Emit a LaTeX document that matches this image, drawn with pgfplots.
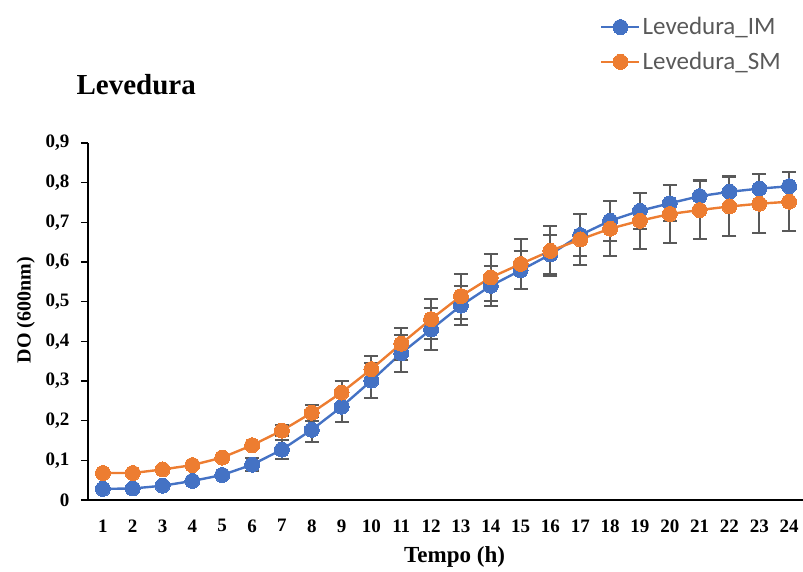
\documentclass[border=0pt]{standalone}
\usepackage{pgfplots}
\pgfplotsset{compat=1.18}
\usepackage{pgfplotstable}
\usepackage{fontspec}
\setmainfont{Liberation Serif}
\newfontfamily\legfont{Carlito}

\definecolor{imblue}{HTML}{4472C4}
\definecolor{smorange}{HTML}{ED7D31}
\definecolor{errgray}{HTML}{595959}
\definecolor{leggray}{HTML}{595959}

% t: time (h); im/sm: mean OD600; eim/esm: standard deviation
\pgfplotstableread{
t  im    eim   sm    esm
1  0.028 0.000 0.068 0.000
2  0.029 0.000 0.068 0.000
3  0.036 0.000 0.077 0.000
4  0.048 0.000 0.088 0.000
5  0.063 0.000 0.107 0.000
6  0.089 0.017 0.138 0.000
7  0.127 0.024 0.175 0.014
8  0.177 0.032 0.220 0.020
9  0.235 0.039 0.271 0.030
10 0.301 0.045 0.330 0.034
11 0.370 0.047 0.394 0.040
12 0.430 0.053 0.456 0.050
13 0.490 0.049 0.514 0.057
14 0.540 0.050 0.561 0.059
15 0.579 0.048 0.595 0.062
16 0.619 0.050 0.628 0.063
17 0.668 0.052 0.657 0.065
18 0.704 0.050 0.684 0.070
19 0.729 0.046 0.704 0.071
20 0.748 0.045 0.721 0.072
21 0.766 0.040 0.731 0.074
22 0.777 0.039 0.740 0.074
23 0.785 0.038 0.747 0.074
24 0.791 0.036 0.752 0.075
}\growth

\begin{document}
\begin{tikzpicture}
\useasboundingbox (-88pt,-72pt) rectangle (715pt,500pt);
\begin{axis}[
  at={(0pt,0pt)}, anchor=origin,
  scale only axis,
  width=716pt, height=357pt,
  xmin=0.5, xmax=24.5,
  ymin=0, ymax=0.9,
  axis x line=bottom, axis y line=left,
  axis line style={-, black, line width=1.4pt},
  xtick={1,...,24},
  ytick={0,0.1,...,0.9},
  tick align=outside,
  major tick length=7pt,
  x tick style={draw=none},
  y tick style={black, line width=1.4pt},
  /pgf/number format/.cd, use comma, fixed, precision=1, assume math mode=true,
  /pgfplots/.cd,
  ticklabel style={font=\fontsize{19}{19}\selectfont\bfseries},
  xticklabel style={yshift=-9pt},
  yticklabel style={xshift=-8pt},
  xlabel={Tempo (h)},
  ylabel={DO (600nm)},
  xlabel style={font=\fontsize{23}{23}\selectfont\bfseries,
    at={(axis description cs:0.512,-0.16)}, anchor=center},
  ylabel style={font=\fontsize{20}{20}\selectfont\bfseries,
    at={(axis description cs:-0.087,0.532)}, anchor=center, rotate=0},
  legend style={
    at={(axis description cs:0.711,1.363)}, anchor=north west,
    draw=none, fill=none,
    font=\legfont\fontsize{25}{25}\selectfont\color{leggray},
    row sep=12pt,
    /tikz/every even column/.append style={column sep=4pt},
  },
  legend cell align=left,
  legend image code/.code={%
    \draw[mark repeat=2, mark phase=2, #1, line width=2.4pt]
      plot coordinates {(0pt,0pt) (19pt,0pt) (38pt,0pt)};},
  clip=false,
]
\addplot[imblue, line width=2.4pt, mark=*, mark size=7.5pt,
  mark options={solid, fill=imblue, draw=imblue, line width=0pt}]
  table[x=t, y=im] {\growth};
\addlegendentry{Levedura\_IM}

\addplot[forget plot, draw=none, mark=none,
  restrict x to domain=6:24,
  error bars/.cd, y dir=both, y explicit,
  error bar style={draw=errgray, line width=2pt, solid},
  error mark options={draw=errgray, rotate=90, mark size=7pt, line width=2pt}]
  table[x=t, y=im, y error=eim] {\growth};

\addplot[smorange, line width=2.4pt, mark=*, mark size=7.5pt,
  mark options={solid, fill=smorange, draw=smorange, line width=0pt}]
  table[x=t, y=sm] {\growth};
\addlegendentry{Levedura\_SM}

\addplot[forget plot, draw=none, mark=none,
  restrict x to domain=7:24,
  error bars/.cd, y dir=both, y explicit,
  error bar style={draw=errgray, line width=2pt, solid},
  error mark options={draw=errgray, rotate=90, mark size=7pt, line width=2pt}]
  table[x=t, y=sm, y error=esm] {\growth};
\end{axis}
\node[anchor=base west, font=\fontsize{29}{29}\selectfont\bfseries]
  at (-15pt,405pt) {Levedura};
\end{tikzpicture}
\end{document}
